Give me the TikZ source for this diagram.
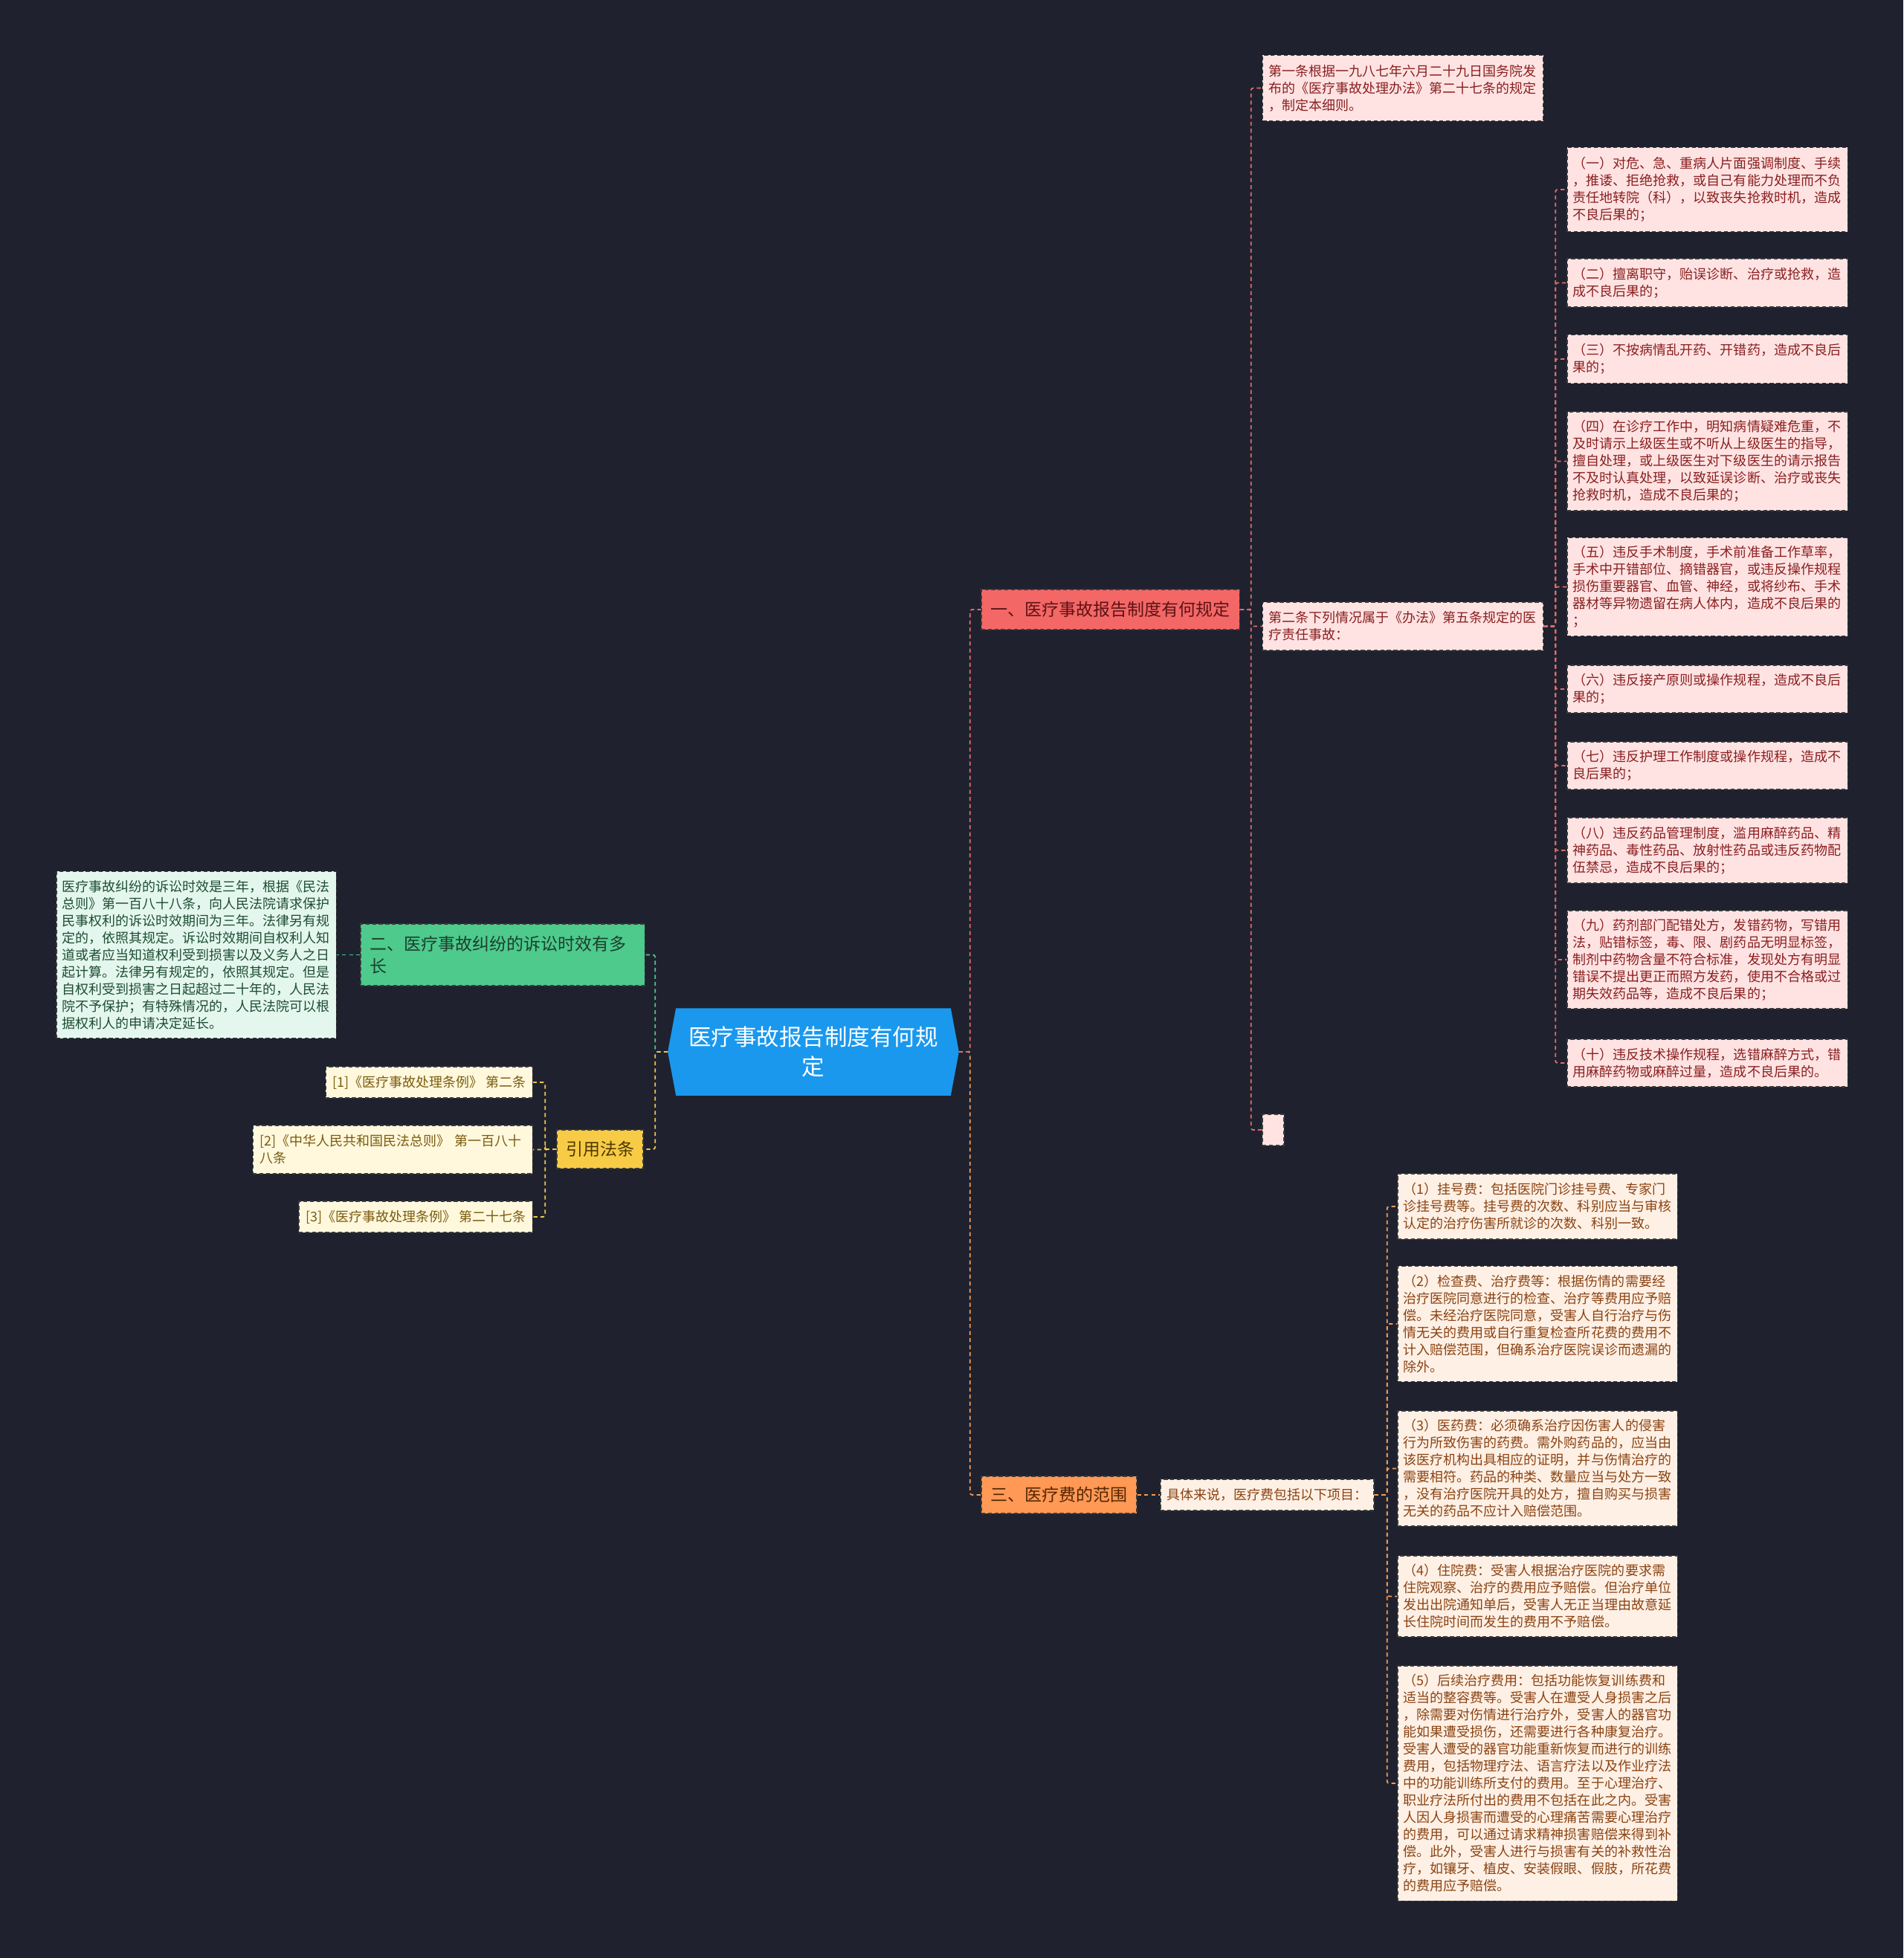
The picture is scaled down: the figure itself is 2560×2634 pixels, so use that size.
\documentclass[tikz,border=0pt]{standalone}
\usepackage{fontspec}
\setmainfont{Noto Sans CJK SC}
\usetikzlibrary{backgrounds}
\definecolor{bgc}{HTML}{1F222E}
\definecolor{pinkfill}{HTML}{FFE3E3}
\definecolor{pinktext}{HTML}{8A1F1F}
\definecolor{gleaffill}{HTML}{E4F7EE}
\definecolor{gleaftext}{HTML}{1E4D33}
\definecolor{yleaffill}{HTML}{FFF8DD}
\definecolor{yleaftext}{HTML}{7B5C0F}
\definecolor{oleaffill}{HTML}{FFF0E5}
\definecolor{oleaftext}{HTML}{8A4312}
\definecolor{redbr}{HTML}{F36767}
\definecolor{redbrtext}{HTML}{5E1212}
\definecolor{greenbr}{HTML}{4DCA8C}
\definecolor{greenbrtext}{HTML}{1C3F2C}
\definecolor{yellowbr}{HTML}{F7CB45}
\definecolor{yellowbrtext}{HTML}{4D3800}
\definecolor{orangebr}{HTML}{FF9955}
\definecolor{orangebrtext}{HTML}{542600}
\definecolor{centerblue}{HTML}{1A98EE}
\definecolor{redline}{HTML}{E36B6B}
\definecolor{greenline}{HTML}{4DCA8C}
\definecolor{yellowline}{HTML}{F3C74A}
\definecolor{orangeline}{HTML}{F59A55}
\definecolor{boxline}{HTML}{3A3A3A}
\newcommand\leaffont{\fontsize{5.12pt}{6.54pt}\selectfont}
\newcommand\branchfont{\fontsize{6.54pt}{8.54pt}\selectfont}
\newcommand\centerfont{\fontsize{8.68pt}{11.4pt}\selectfont}
\tikzset{
  boxed/.style={rectangle, draw=boxline, line width=0.35pt, dash pattern=on 1.5pt off 1pt},
  leafbase/.style={boxed, inner xsep=0.08cm, inner ysep=0pt, align=left, font=\leaffont},
  pinkleaf/.style={leafbase, fill=pinkfill, text=pinktext, text width=3.61cm},
  gleaf/.style={leafbase, fill=gleaffill, text=gleaftext, text width=3.60cm},
  yleaf/.style={leafbase, fill=yleaffill, text=yleaftext, inner xsep=0.09cm, anchor=east, minimum height=0.42cm},
  oleaf/.style={leafbase, fill=oleaffill, text=oleaftext, text width=3.60cm},
  branchbox/.style={boxed, inner xsep=0pt, inner ysep=0pt, font=\branchfont, align=center},
  conn/.style={draw=#1, line width=0.5pt, dash pattern=on 1.5pt off 1.2pt, rounded corners=0.8pt}
}
\begin{document}
\begin{tikzpicture}[x=0.01cm, y=-0.01cm]
\begin{scope}[on background layer]
\fill[bgc] (0,0) rectangle (2560,2634);
\end{scope}
\useasboundingbox (0,0) rectangle (2560,2634);

% center
\node[font=\centerfont, text=white, align=center, minimum width=3.90cm, minimum height=1.16cm, inner sep=0pt] (root) at (1094,1415) {医疗事故报告制度有何规\\定};
\begin{scope}[on background layer]
\fill[centerblue] (root.west) -- ([xshift=0.11cm]root.north west) -- ([xshift=-0.11cm]root.north east) -- (root.east) -- ([xshift=-0.11cm]root.south east) -- ([xshift=0.11cm]root.south west) -- cycle;
\end{scope}

% branches
\node[branchbox, fill=redbr, text=redbrtext, minimum width=3.47cm, minimum height=0.54cm] (b1) at (1493.5,820) {一、医疗事故报告制度有何规定};
\node[branchbox, fill=greenbr, text=greenbrtext, text width=3.57cm, inner xsep=0.125cm, align=left, minimum height=0.83cm] (b2) at (676,1284.5) {二、医疗事故纠纷的诉讼时效有多\\长};
\node[branchbox, fill=yellowbr, text=yellowbrtext, minimum width=1.16cm, minimum height=0.52cm] (b4) at (807,1546) {引用法条};
\node[branchbox, fill=orangebr, text=orangebrtext, minimum width=2.09cm, minimum height=0.50cm] (b3) at (1424.5,2011) {三、医疗费的范围};

% branch 1 children
\node[pinkleaf, minimum height=0.88cm] (a1) at (1887,118.5) {第一条根据一九八七年六月二十九日国务院发\\布的《医疗事故处理办法》第二十七条的规定\\，制定本细则。};
\node[pinkleaf, minimum height=0.65cm] (a2) at (1887,842.5) {第二条下列情况属于《办法》第五条规定的医\\疗责任事故：};
\node[boxed, fill=pinkfill, minimum width=0.29cm, minimum height=0.42cm, inner sep=0pt] (a3) at (1712.5,1520) {};

% items of article 2
\node[pinkleaf, minimum height=1.13cm] (i1) at (2296.5,255) {（一）对危、急、重病人片面强调制度、手续\\，推诿、拒绝抢救，或自己有能力处理而不负\\责任地转院（科），以致丧失抢救时机，造成\\不良后果的；};
\node[pinkleaf, minimum height=0.65cm] (i2) at (2296.5,380.5) {（二）擅离职守，贻误诊断、治疗或抢救，造\\成不良后果的；};
\node[pinkleaf, minimum height=0.65cm] (i3) at (2296.5,483) {（三）不按病情乱开药、开错药，造成不良后\\果的；};
\node[pinkleaf, minimum height=1.33cm] (i4) at (2296.5,620.5) {（四）在诊疗工作中，明知病情疑难危重，不\\及时请示上级医生或不听从上级医生的指导，\\擅自处理，或上级医生对下级医生的请示报告\\不及时认真处理，以致延误诊断、治疗或丧失\\抢救时机，造成不良后果的；};
\node[pinkleaf, minimum height=1.32cm] (i5) at (2296.5,789.5) {（五）违反手术制度，手术前准备工作草率，\\手术中开错部位、摘错器官，或违反操作规程\\损伤重要器官、血管、神经，或将纱布、手术\\器材等异物遗留在病人体内，造成不良后果的\\；};
\node[pinkleaf, minimum height=0.64cm] (i6) at (2296.5,927) {（六）违反接产原则或操作规程，造成不良后\\果的；};
\node[pinkleaf, minimum height=0.64cm] (i7) at (2296.5,1030) {（七）违反护理工作制度或操作规程，造成不\\良后果的；};
\node[pinkleaf, minimum height=0.88cm] (i8) at (2296.5,1144) {（八）违反药品管理制度，滥用麻醉药品、精\\神药品、毒性药品、放射性药品或违反药物配\\伍禁忌，造成不良后果的；};
\node[pinkleaf, minimum height=1.32cm] (i9) at (2296.5,1291) {（九）药剂部门配错处方，发错药物，写错用\\法，贴错标签，毒、限、剧药品无明显标签，\\制剂中药物含量不符合标准，发现处方有明显\\错误不提出更正而照方发药，使用不合格或过\\期失效药品等，造成不良后果的；};
\node[pinkleaf, minimum height=0.64cm] (i10) at (2296.5,1430) {（十）违反技术操作规程，选错麻醉方式，错\\用麻醉药物或麻醉过量，造成不良后果的。};

% branch 2 child
\node[gleaf, minimum height=2.24cm] (g1) at (264,1284.5) {医疗事故纠纷的诉讼时效是三年，根据《民法\\总则》第一百八十八条，向人民法院请求保护\\民事权利的诉讼时效期间为三年。法律另有规\\定的，依照其规定。诉讼时效期间自权利人知\\道或者应当知道权利受到损害以及义务人之日\\起计算。法律另有规定的，依照其规定。但是\\自权利受到损害之日起超过二十年的，人民法\\院不予保护；有特殊情况的，人民法院可以根\\据权利人的申请决定延长。};

% citations
\node[yleaf] (c1) at (717,1456) {[1]《医疗事故处理条例》 第二条};
\node[yleaf, text width=3.58cm, minimum height=0.65cm] (c2) at (717,1546.5) {[2]《中华人民共和国民法总则》 第一百八十\\八条};
\node[yleaf] (c3) at (717,1637) {[3]《医疗事故处理条例》 第二十七条};

% branch 3
\node[leafbase, fill=oleaffill, text=oleaftext, inner xsep=0.085cm, minimum height=0.42cm] (s0) at (1704.5,2011) {具体来说，医疗费包括以下项目：};
\node[oleaf, minimum height=0.88cm] (f1) at (2068,1623) {（1）挂号费：包括医院门诊挂号费、专家门\\诊挂号费等。挂号费的次数、科别应当与审核\\认定的治疗伤害所就诊的次数、科别一致。};
\node[oleaf, minimum height=1.55cm] (f2) at (2068,1781) {（2）检查费、治疗费等：根据伤情的需要经\\治疗医院同意进行的检查、治疗等费用应予赔\\偿。未经治疗医院同意，受害人自行治疗与伤\\情无关的费用或自行重复检查所花费的费用不\\计入赔偿范围，但确系治疗医院误诊而遗漏的\\除外。};
\node[oleaf, minimum height=1.55cm] (f3) at (2068,1975.5) {（3）医药费：必须确系治疗因伤害人的侵害\\行为所致伤害的药费。需外购药品的，应当由\\该医疗机构出具相应的证明，并与伤情治疗的\\需要相符。药品的种类、数量应当与处方一致\\，没有治疗医院开具的处方，擅自购买与损害\\无关的药品不应计入赔偿范围。};
\node[oleaf, minimum height=1.09cm] (f4) at (2068,2147.5) {（4）住院费：受害人根据治疗医院的要求需\\住院观察、治疗的费用应予赔偿。但治疗单位\\发出出院通知单后，受害人无正当理由故意延\\长住院时间而发生的费用不予赔偿。};
\node[oleaf, minimum height=3.16cm] (f5) at (2068,2399) {（5）后续治疗费用：包括功能恢复训练费和\\适当的整容费等。受害人在遭受人身损害之后\\，除需要对伤情进行治疗外，受害人的器官功\\能如果遭受损伤，还需要进行各种康复治疗。\\受害人遭受的器官功能重新恢复而进行的训练\\费用，包括物理疗法、语言疗法以及作业疗法\\中的功能训练所支付的费用。至于心理治疗、\\职业疗法所付出的费用不包括在此之内。受害\\人因人身损害而遭受的心理痛苦需要心理治疗\\的费用，可以通过请求精神损害赔偿来得到补\\偿。此外，受害人进行与损害有关的补救性治\\疗，如镶牙、植皮、安装假眼、假肢，所花费\\的费用应予赔偿。};

% connectors
\draw[conn=greenline] (root.west) -- ++(-17,0) |- (b2.east);
\draw[conn=yellowline] (root.west) -- ++(-17,0) |- (b4.east);
\draw[conn=orangeline] (root.east) -- ++(15,0) |- (b3.west);
\draw[conn=redline] (root.east) -- ++(15,0) |- (b1.west);

\foreach \t in {a1,a2,a3} \draw[conn=redline] (b1.east) -- ++(15,0) |- (\t.west);
\foreach \t in {i1,i2,i3,i4,i5,i6,i7,i8,i9,i10} \draw[conn=redline] (a2.east) -- ++(16,0) |- (\t.west);

\draw[conn=greenline] (b2.west) -- (g1.east);
\foreach \t in {c1,c2,c3} \draw[conn=yellowline] (b4.west) -- ++(-15,0) |- (\t.east);

\draw[conn=orangeline] (b3.east) -- (s0.west);
\foreach \t in {f1,f2,f3,f4,f5} \draw[conn=orangeline] (s0.east) -- ++(17,0) |- (\t.west);
\end{tikzpicture}
\end{document}
